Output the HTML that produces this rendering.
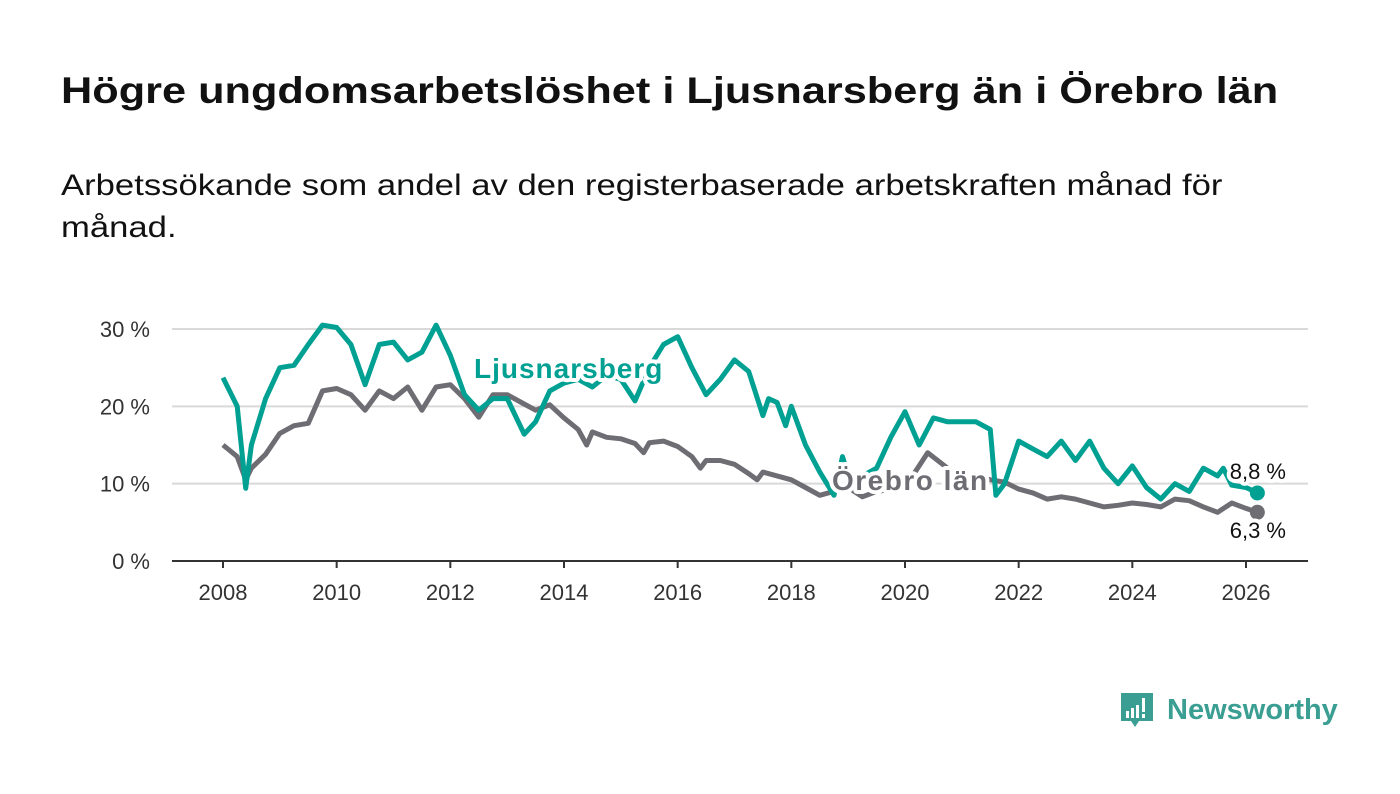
<!DOCTYPE html>
<html><head><meta charset="utf-8"><style>
body{margin:0;background:#fff;width:1400px;height:794px;overflow:hidden;font-family:"Liberation Sans","DejaVu Sans",sans-serif;}
#title{position:absolute;left:61px;top:70px;font-size:37px;font-weight:bold;color:#111;margin:0;transform-origin:0 0;transform:scaleX(1.17);white-space:nowrap}
#sub{position:absolute;left:61px;top:165px;font-size:30px;color:#111;line-height:42px;width:1100px;white-space:nowrap;transform-origin:0 0;transform:scaleX(1.155)}
svg{position:absolute;left:0;top:0}
</style></head><body>
<h1 id="title">Högre ungdomsarbetslöshet i Ljusnarsberg än i Örebro län</h1>
<div id="sub">Arbetssökande som andel av den registerbaserade arbetskraften månad för<br>månad.</div>
<svg id="chart" width="1400" height="794"></svg>
<svg width="1400" height="794">
<path d="M1121 693h32v28h-14l-4 6-4-6h-10z" fill="#3a9e92"/>
<rect x="1126" y="711" width="3" height="7" fill="#fff"/><rect x="1131" y="708" width="3" height="10" fill="#fff"/><rect x="1136" y="705" width="3" height="13" fill="#fff"/><rect x="1142" y="698" width="3" height="14" fill="#fff"/><rect x="1142" y="714" width="3" height="4" fill="#fff"/>
<text x="1167" y="719" font-size="29" font-weight="bold" fill="#3a9e92" font-family="Liberation Sans, sans-serif">Newsworthy</text>
</svg>
<script>
const ljYears=[2008,2008.25,2008.4,2008.5,2008.75,2009,2009.25,2009.5,2009.75,2010,2010.25,2010.5,2010.75,2011,2011.25,2011.5,2011.75,2012,2012.25,2012.5,2012.75,2013,2013.3,2013.5,2013.75,2014,2014.25,2014.5,2014.75,2015,2015.25,2015.5,2015.75,2016,2016.25,2016.5,2016.75,2017,2017.25,2017.5,2017.6,2017.75,2017.9,2018,2018.25,2018.5,2018.75,2018.9,2019,2019.25,2019.5,2019.75,2020,2020.25,2020.5,2020.75,2021,2021.25,2021.5,2021.6,2021.75,2022,2022.25,2022.5,2022.75,2023,2023.25,2023.5,2023.75,2024,2024.25,2024.5,2024.75,2025,2025.25,2025.5,2025.6,2025.75,2026,2026.2];
const ljValues=[23.7,20,9.4,15,21,25,25.3,28,30.5,30.2,28,22.8,28,28.3,26,27,30.5,26.6,21.5,19.5,21,21,16.4,18,22,23,23.5,22.5,24,23.5,20.7,25,28,29,25,21.5,23.5,26,24.5,18.8,21,20.5,17.5,20,15,11.5,8.5,13.5,11,11,12,16,19.3,15,18.5,18,18,18,17,8.5,10,15.5,14.5,13.5,15.5,13,15.5,12,10,12.3,9.5,8,10,9,12,11,12,9.8,9.5,8.8];
const orYears=[2008,2008.25,2008.4,2008.5,2008.75,2009,2009.25,2009.5,2009.75,2010,2010.25,2010.5,2010.75,2011,2011.25,2011.5,2011.75,2012,2012.25,2012.5,2012.75,2013,2013.25,2013.5,2013.75,2014,2014.25,2014.4,2014.5,2014.75,2015,2015.25,2015.4,2015.5,2015.75,2016,2016.25,2016.4,2016.5,2016.75,2017,2017.25,2017.4,2017.5,2017.75,2018,2018.25,2018.5,2018.75,2019,2019.25,2019.5,2020,2020.4,2020.75,2021,2021.25,2021.5,2021.75,2022,2022.25,2022.5,2022.75,2023,2023.25,2023.5,2023.75,2024,2024.25,2024.5,2024.75,2025,2025.25,2025.5,2025.75,2026,2026.2];
const orValues=[15,13.5,10.5,12,13.8,16.5,17.5,17.8,22,22.3,21.5,19.5,22,21,22.5,19.5,22.5,22.8,21,18.6,21.5,21.5,20.5,19.5,20.2,18.5,17,15,16.7,16,15.8,15.2,14,15.3,15.5,14.8,13.5,12,13,13,12.5,11.3,10.5,11.5,11,10.5,9.5,8.5,9,9.5,8.3,9,9.5,14,12,11,11,10.5,10.2,9.3,8.8,8,8.3,8,7.5,7,7.2,7.5,7.3,7,8,7.8,7,6.3,7.5,6.8,6.3];
const yTicks=[0,10,20,30];
const yTickLabels=["0 %","10 %","20 %","30 %"];
const xTicks=[2008,2010,2012,2014,2016,2018,2020,2022,2024,2026];

const svg=document.getElementById('chart');const NS='http://www.w3.org/2000/svg';
const X=y=>223+(y-2008)*(1246-223)/18;
const Y=v=>561-v*(561-329)/30;
function mk(t,a){const e=document.createElementNS(NS,t);for(const k in a)e.setAttribute(k,a[k]);svg.appendChild(e);return e;}
yTicks.forEach((t,i)=>{
 if(t>0){const g=mk('line',{x1:172,x2:1308,y1:Y(t),y2:Y(t),stroke:'#d9d9d9','stroke-width':2});
 
 }
 const l=mk('text',{x:150,y:Y(t)+8,'text-anchor':'end','font-size':22,fill:'#333'});l.textContent=yTickLabels[i];
 
 
});
const ax=mk('line',{x1:172,x2:1308,y1:561,y2:561,stroke:'#333','stroke-width':2});


xTicks.forEach(t=>{
 const tk=mk('line',{x1:X(t),x2:X(t),y1:561,y2:568,stroke:'#333','stroke-width':2});
 
 
 const l=mk('text',{x:X(t),y:600,'text-anchor':'middle','font-size':22,fill:'#333'});l.textContent=t;
 
 
});
function line(xs,vs,col,name){
 const d=xs.map((x,i)=>(i?'L':'M')+X(x).toFixed(1)+','+Y(vs[i]).toFixed(1)).join('');
 const p=mk('path',{d:d,fill:'none',stroke:col,'stroke-width':5,'stroke-linejoin':'round'});
 
 
 const n=xs.length-1;
 const c=mk('circle',{cx:X(xs[n]),cy:Y(vs[n]),r:7.5,fill:col});
 
 
}
line(orYears,orValues,'#6e6d73','orebro-line');
line(ljYears,ljValues,'#00a093','ljusnarsberg-line');
function lab(x,y,txt,col,name,anchor,w,size,ls){
 const t=mk('text',{x:x,y:y,'font-size':size,'font-weight':w,fill:col,'text-anchor':anchor||'start',stroke:'#fff','stroke-width':8,'paint-order':'stroke','stroke-linejoin':'round','letter-spacing':ls||0});
 t.textContent=txt;
 
 
}
lab(474,378,'Ljusnarsberg','#00a093','ljusnarsberg-label','start','bold',28,1);
lab(832,490,'Örebro län','#6e6d73','orebro-label','start','bold',28,1.5);
lab(1286,479,'8,8 %','#111','ljusnarsberg-end-value','end','normal',22);
lab(1286,538,'6,3 %','#111','orebro-end-value','end','normal',22);
</script>
</body></html>
